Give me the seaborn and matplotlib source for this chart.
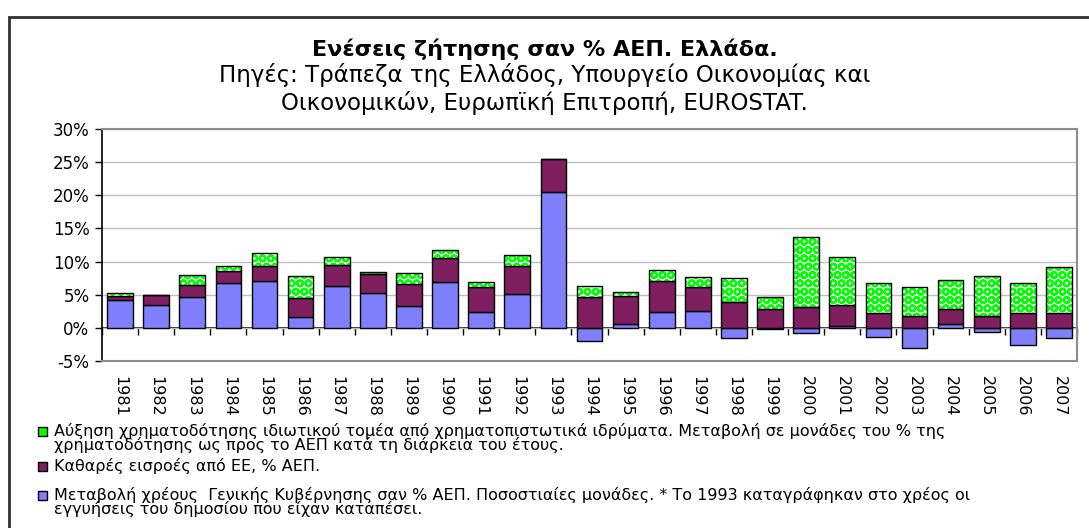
import numpy as np
import pandas as pd
import seaborn as sns
import matplotlib.pyplot as plt
from matplotlib.patches import Rectangle

# data (% of GDP)
years = [str(y) for y in range(1981, 2008)]
debt_change = [4.2, 3.4, 4.6, 6.75, 7.05, 1.7, 6.25, 5.3, 3.3, 6.85, 2.35, 5.1, 20.5, -2.0,
               0.65, 2.35, 2.5, -1.6, -0.1, -0.75, 0.3, -1.4, -3.0, 0.65, -0.6, -2.65, -1.6]
eu_inflows = [0.55, 1.6, 1.85, 1.9, 2.25, 2.85, 3.3, 2.8, 3.25, 3.7, 3.8, 4.3, 5.0, 4.6,
              4.1, 4.65, 3.65, 3.95, 2.8, 3.1, 3.15, 2.2, 1.85, 2.25, 1.85, 2.3, 2.3]
credit_growth = [0.55, 0.0, 1.45, 0.75, 2.05, 3.2, 1.15, 0.35, 1.8, 1.15, 0.8, 1.6, 0.0, 1.7,
                 0.6, 1.8, 1.45, 3.5, 1.8, 10.6, 7.3, 4.6, 4.35, 4.25, 5.95, 4.5, 6.85]
yticks = [-5, 0, 5, 10, 15, 20, 25, 30]

title = "Ενέσεις ζήτησης σαν % ΑΕΠ. Ελλάδα."
subtitle = "Πηγές: Τράπεζα της Ελλάδος, Υπουργείο Οικονομίας και\nΟικονομικών, Ευρωπϊκή Επιτροπή, EUROSTAT."
legend_labels = [
    "Αύξηση χρηματοδότησης ιδιωτικού τομέα από χρηματοπιστωτικά ιδρύματα. Μεταβολή σε μονάδες του % της\n"
    "χρηματοδότησης ως προς το ΑΕΠ κατά τη διάρκεια του έτους.",
    "Καθαρές εισροές από ΕΕ, % ΑΕΠ.",
    "Μεταβολή χρέους  Γενικής Κυβέρνησης σαν % ΑΕΠ. Ποσοστιαίες μονάδες. * Το 1993 καταγράφηκαν στο χρέος οι\n"
    "εγγυήσεις του δημοσίου που είχαν καταπέσει.",
]

BLUE = "#8080FF"
PURPLE = "#7F1F5F"
GREEN = "#00FF00"

df = pd.DataFrame({"year": years, "debt": debt_change, "eu": eu_inflows, "credit": credit_growth})
# positive parts stack from zero, negative debt goes below
debt_pos = np.clip(df["debt"].to_numpy(), 0, None)
eu_bottom = debt_pos
credit_bottom = debt_pos + df["eu"].to_numpy()

sns.set_theme(style="white", rc={"text.color": "black", "xtick.color": "black",
                                 "ytick.color": "black", "axes.labelcolor": "black"})
plt.rcParams["font.family"] = ["DejaVu Sans"]
plt.rcParams["hatch.linewidth"] = 1.6

fig = plt.figure(figsize=(10.89, 5.28), dpi=100)
W, H = 1089, 528
ax = fig.add_axes([102 / W, 1 - 361 / H, (1077 - 102) / W, (361 - 129) / H])

bw = 0.71
sns.barplot(data=df, x="year", y="debt", order=years, color=BLUE, width=bw, saturation=1,
            errorbar=None, edgecolor="black", linewidth=1, ax=ax, zorder=2)
sns.barplot(data=df, x="year", y="eu", order=years, color=PURPLE, width=bw, saturation=1,
            errorbar=None, edgecolor="black", linewidth=1, bottom=eu_bottom, ax=ax, zorder=2)
# green "sphere" pattern layer, then black outline on top
sns.barplot(data=df, x="year", y="credit", order=years, color=GREEN, width=bw, saturation=1,
            errorbar=None, facecolor="white", edgecolor=GREEN, linewidth=0, hatch="OO",
            bottom=credit_bottom, ax=ax, zorder=2)
sns.barplot(data=df, x="year", y="credit", order=years, color=GREEN, width=bw, errorbar=None,
            facecolor="none", edgecolor="black", linewidth=1,
            bottom=credit_bottom, ax=ax, zorder=2.1)

ax.set_xlim(-0.5, len(years) - 0.5)
ax.set_ylim(-5, 30)
ax.set_yticks(yticks)
ax.set_yticklabels([f"{v}%" for v in yticks], fontsize=12)
ax.yaxis.grid(True, color="#C0C0C0", linewidth=1)
ax.set_axisbelow(True)
ax.set_xlabel("")
ax.set_ylabel("")
ax.tick_params(axis="y", direction="out", length=5, width=1, color="black", left=True, pad=4)
ax.tick_params(axis="x", length=0, pad=11, labelsize=11.5)
plt.setp(ax.get_xticklabels(), rotation=-90)

for side in ["top", "right", "bottom"]:
    ax.spines[side].set_color("#8C8C8C")
    ax.spines[side].set_linewidth(1.5)
ax.spines["left"].set_color("black")
ax.spines["left"].set_linewidth(1.2)

# category axis crossing at 0 with ticks between categories
zero_frac = (0 - (-5)) / 35
sec = ax.secondary_xaxis(zero_frac)
sec.set_xticks(np.arange(len(years) + 1) - 0.5)
sec.set_xticklabels([])
sec.tick_params(direction="out", length=5, width=1, color="black")
sec.spines["bottom"].set_color("black")
sec.spines["bottom"].set_linewidth(1.2)

# titles
fig.text(0.5, 1 - 49 / H, title, ha="center", va="center", fontsize=16, fontweight="bold")
fig.text(0.5, 1 - 89 / H, subtitle, ha="center", va="center", fontsize=16.5, linespacing=1.2)

# legend drawn as boxes + text under the plot
leg_colors = [GREEN, PURPLE, BLUE]
leg_y = [431, 466, 495]
for lab, col, yy in zip(legend_labels, leg_colors, leg_y):
    fig.add_artist(Rectangle((38 / W, 1 - (yy + 4.5) / H), 9 / W, 9 / H,
                             transform=fig.transFigure, facecolor=col,
                             edgecolor="black", linewidth=1))
    fig.text(54 / W, 1 - (yy - 7.7) / H, lab, ha="left", va="top", fontsize=11.5,
             linespacing=0.8)

# outer chart frame
fig.add_artist(Rectangle((9 / W, -0.1), 1.2, 1 - 17 / H + 0.1, transform=fig.transFigure,
                         facecolor="none", edgecolor="#303030", linewidth=2))

fig.savefig("out.png", dpi=100)
